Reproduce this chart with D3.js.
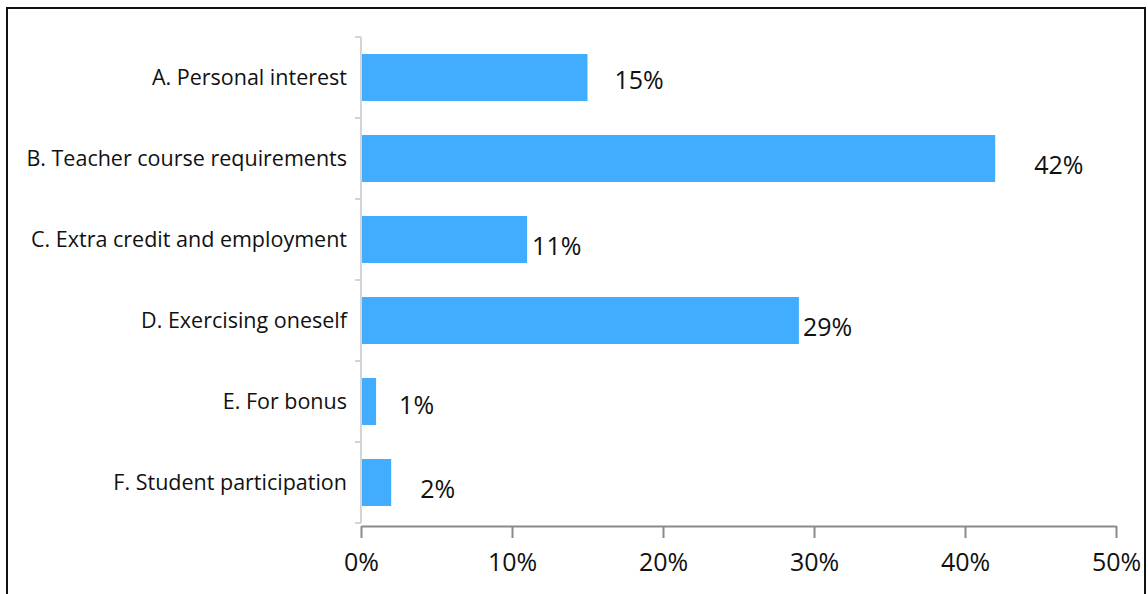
<!DOCTYPE html>
<html>
<head>
<meta charset="utf-8">
<script src="https://cdn.jsdelivr.net/npm/d3@7"></script>
<style>
  html, body { margin: 0; padding: 0; background: #fff; }
  svg { display: block; }
</style>
</head>
<body>
<svg id="chart" width="1148" height="594"></svg>
<script>
// Reasons for taking part, share of respondents (%)
const categories = [
  "A. Personal interest",
  "B. Teacher course requirements",
  "C. Extra credit and employment",
  "D. Exercising oneself",
  "E. For bonus",
  "F. Student participation"
];
const shares = [15, 42, 11, 29, 1, 2];
const xTicks = [0, 10, 20, 30, 40, 50];

// label nudges (dx, dy) in px, relative to the bar end / bar centre
const labelNudge = [[27, 1], [39, 5], [5, 5], [4, 5], [23, 2], [29, 5]];

const svg = d3.select("#chart");
const W = 1148, H = 594;
const margin = { left: 361, right: 32, top: 37, bottom: 71 };
const font = "'Open Sans', 'Noto Sans', sans-serif";

// frame
svg.append("rect")
  .attr("x", 7).attr("y", 8)
  .attr("width", 1138).attr("height", 600)
  .attr("fill", "none").attr("stroke", "#111").attr("stroke-width", 2);

const x = d3.scaleLinear()
  .domain([0, 50])
  .range([margin.left, W - margin.right]);

const y = d3.scaleBand()
  .domain(categories)
  .range([margin.top, H - margin.bottom])
  .paddingInner(0.42)
  .paddingOuter(0.21);

// bars
svg.append("g").selectAll("rect")
  .data(categories)
  .join("rect")
  .attr("x", x(0))
  .attr("y", d => y(d))
  .attr("width", (d, i) => x(shares[i]) - x(0))
  .attr("height", y.bandwidth())
  .attr("fill", "#42adff");

// value labels
svg.append("g").selectAll("text")
  .data(categories)
  .join("text")
  .attr("x", (d, i) => x(shares[i]) + labelNudge[i][0])
  .attr("y", (d, i) => y(d) + y.bandwidth() / 2 + labelNudge[i][1])
  .attr("dominant-baseline", "central")
  .attr("font-family", font)
  .attr("font-size", 25)
  .attr("fill", "#111")
  .text((d, i) => shares[i] + "%");

// y axis (category) with ticks between bands
const yAxisG = svg.append("g");
const step = y.step();
const bounds = d3.range(categories.length + 1).map(i => margin.top + i * step);
yAxisG.append("line")
  .attr("x1", x(0)).attr("x2", x(0))
  .attr("y1", margin.top).attr("y2", H - margin.bottom)
  .attr("stroke", "#d4d4d4").attr("stroke-width", 2);
yAxisG.selectAll("line.tick")
  .data(bounds)
  .join("line")
  .attr("class", "tick")
  .attr("x1", x(0) - 6).attr("x2", x(0))
  .attr("y1", d => d).attr("y2", d => d)
  .attr("stroke", "#d4d4d4").attr("stroke-width", 2);
yAxisG.selectAll("text")
  .data(categories)
  .join("text")
  .attr("x", x(0) - 14)
  .attr("y", d => y(d) + y.bandwidth() / 2 - 1)
  .attr("text-anchor", "end")
  .attr("dominant-baseline", "central")
  .attr("font-family", font)
  .attr("font-size", 21.5)
  .attr("fill", "#111")
  .text(d => d);

// x axis
const xAxis = d3.axisBottom(x)
  .tickValues(xTicks)
  .tickFormat(d => d + "%")
  .tickSize(12)
  .tickSizeOuter(0)
  .tickPadding(15);
const xg = svg.append("g")
  .attr("transform", `translate(0,${H - margin.bottom + 3})`)
  .call(xAxis);
xg.select(".domain").attr("stroke", "#8a8a8a").attr("stroke-width", 2);
xg.selectAll(".tick line").attr("stroke", "#8a8a8a").attr("stroke-width", 2);
xg.selectAll(".tick text")
  .attr("font-family", font)
  .attr("font-size", 25)
  .attr("fill", "#111");
</script>
</body>
</html>
